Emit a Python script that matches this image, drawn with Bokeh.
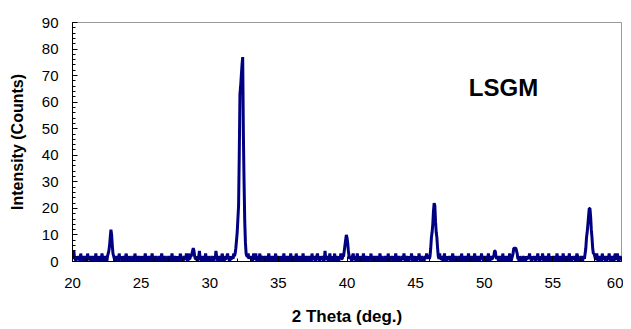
import numpy as np
from bokeh.plotting import figure
from bokeh.models import Range1d, Label, SingleIntervalTicker, ColumnDataSource
from bokeh.embed import file_html
from bokeh.resources import INLINE

# 2-theta grid start/step (deg.) and intensities
theta_start = 20.0
theta_step = 0.05
intensity = [
    1, 2, 4, 1, 1, 0, 2, 1, 1, 2, 1, 0, 3, 1, 2, 1, 0, 1, 2, 1,          # 20
    1, 0, 3, 1, 1, 2, 1, 0, 1, 2, 1, 1, 0, 1, 3, 1, 1, 0, 2, 1,          # 21
    0, 1, 1, 3, 1, 0, 1, 2, 1, 1, 0, 2, 3, 4, 6, 9, 12, 10, 6, 3,        # 22
    2, 1, 0, 1, 2, 1, 1, 0, 3, 1, 1, 2, 0, 1, 1, 2, 1, 0, 3, 2,          # 23
    1, 1, 0, 2, 1, 1, 0, 1, 2, 1, 0, 3, 1, 2, 1, 0, 1, 2, 1, 1,          # 24
    0, 2, 1, 1, 0, 1, 3, 1, 1, 0, 1, 2, 1, 0, 1, 1, 3, 1, 0, 1,          # 25
    1, 2, 1, 0, 1, 1, 2, 1, 0, 1, 3, 1, 1, 0, 1, 2, 1, 0, 1, 1,          # 26
    2, 1, 0, 1, 1, 3, 1, 0, 1, 2, 1, 1, 0, 2, 1, 1, 0, 3, 2, 1,          # 27
    1, 0, 1, 2, 1, 1, 3, 1, 0, 3, 1, 1, 2, 2, 3, 4, 5, 4, 2, 1,          # 28
    1, 2, 0, 1, 2, 4, 1, 1, 0, 1, 2, 1, 0, 1, 3, 1, 1, 0, 2, 1,          # 29
    1, 0, 1, 2, 1, 1, 0, 2, 1, 4, 2, 1, 0, 1, 2, 1, 1, 0, 3, 2,          # 30
    1, 0, 2, 1, 1, 2, 3, 1, 1, 0, 2, 1, 1, 2, 1, 3, 2, 3, 5, 8,          # 31
    11, 16, 21, 40, 63, 66, 70, 74, 77, 48, 30, 15, 7, 3, 2, 2, 3, 1, 2, 1,  # 32
    2, 1, 0, 1, 3, 1, 1, 3, 1, 0, 1, 2, 1, 3, 0, 2, 1, 1, 2, 0,          # 33
    1, 2, 1, 1, 0, 1, 3, 1, 0, 1, 1, 2, 1, 0, 2, 1, 3, 0, 1, 2,          # 34
    1, 1, 0, 2, 1, 1, 0, 1, 3, 1, 1, 0, 1, 2, 1, 0, 1, 1, 3, 1,          # 35
    0, 1, 2, 1, 1, 0, 3, 1, 1, 0, 1, 2, 1, 1, 0, 1, 3, 1, 0, 1,          # 36
    1, 2, 1, 0, 1, 2, 1, 1, 0, 3, 1, 1, 2, 1, 0, 1, 2, 3, 1, 1,          # 37
    0, 2, 1, 1, 2, 1, 0, 1, 4, 1, 1, 2, 1, 0, 1, 3, 1, 1, 0, 2,          # 38
    1, 1, 3, 0, 1, 2, 1, 1, 0, 2, 1, 3, 1, 1, 2, 2, 4, 6, 8, 10,         # 39
    9, 7, 4, 2, 1, 2, 1, 0, 2, 3, 1, 1, 2, 0, 1, 3, 1, 1, 0, 2,          # 40
    1, 1, 0, 1, 3, 1, 0, 1, 2, 1, 1, 0, 2, 1, 1, 3, 0, 1, 1, 2,          # 41
    1, 0, 1, 2, 1, 1, 0, 1, 3, 1, 0, 2, 1, 1, 0, 1, 2, 1, 1, 0,          # 42
    3, 1, 1, 0, 2, 1, 1, 2, 0, 1, 1, 3, 1, 0, 1, 2, 1, 1, 0, 1,          # 43
    2, 1, 1, 3, 1, 0, 1, 2, 1, 1, 0, 2, 1, 1, 3, 1, 0, 1, 2, 1,          # 44
    1, 0, 2, 1, 1, 3, 1, 0, 1, 2, 1, 1, 0, 1, 2, 1, 3, 1, 2, 2,          # 45
    1, 2, 5, 9, 11, 14, 19, 22, 21, 15, 11, 9, 5, 2, 1, 3, 1, 1, 2, 1,   # 46
    0, 1, 3, 1, 1, 0, 2, 1, 1, 2, 1, 0, 1, 1, 3, 1, 0, 1, 2, 1,          # 47
    1, 0, 1, 2, 1, 1, 0, 3, 1, 1, 0, 1, 2, 1, 1, 0, 1, 3, 1, 0,          # 48
    1, 2, 1, 1, 0, 1, 3, 1, 0, 1, 1, 2, 1, 0, 2, 1, 3, 1, 1, 0,          # 49
    1, 2, 1, 0, 1, 1, 3, 1, 0, 1, 2, 1, 1, 2, 2, 4, 4, 2, 1, 2,          # 50
    1, 0, 1, 2, 1, 1, 0, 3, 1, 1, 0, 1, 2, 1, 0, 1, 1, 3, 1, 0,          # 51
    1, 2, 3, 5, 5, 5, 5, 4, 3, 1, 1, 0, 2, 1, 1, 0, 1, 2, 1, 1,          # 52
    0, 2, 1, 1, 2, 1, 3, 1, 1, 0, 2, 1, 1, 2, 1, 0, 1, 1, 3, 1,          # 53
    1, 0, 2, 1, 1, 3, 1, 0, 1, 1, 2, 1, 0, 1, 3, 1, 1, 0, 2, 1,          # 54
    1, 2, 1, 0, 1, 1, 3, 1, 0, 1, 2, 1, 1, 0, 1, 3, 1, 0, 1, 1,          # 55
    2, 1, 0, 1, 3, 1, 1, 0, 2, 1, 1, 2, 1, 0, 1, 3, 2, 1, 0, 1,          # 56
    1, 2, 1, 0, 1, 2, 1, 3, 5, 9, 11, 14, 17, 20, 20, 17, 12, 9, 5, 3,   # 57
    3, 2, 1, 1, 3, 1, 0, 1, 2, 1, 1, 0, 3, 1, 1, 2, 1, 0, 1, 2,          # 58
    1, 1, 3, 1, 0, 1, 2, 1, 1, 0, 2, 3, 1, 1, 3, 1, 0, 1, 2, 1,          # 59
    1,                                                                   # 60
]
two_theta = np.round(theta_start + theta_step * np.arange(len(intensity)), 3)

x_range = (20, 60)
y_range = (0, 90)
sample_label = "LSGM"
sample_label_pos = (51.4, 65.5)

FONT = "Liberation Sans"

p = figure(width=623, height=328, output_backend="svg", toolbar_location=None,
           x_range=Range1d(*x_range), y_range=Range1d(*y_range),
           min_border_left=72, min_border_right=2, min_border_top=22, min_border_bottom=64)
p.xgrid.visible = False
p.ygrid.visible = False
p.outline_line_color = "#9a9a9a"
p.outline_line_width = 1
p.background_fill_color = "white"
p.border_fill_color = "white"

src = ColumnDataSource(dict(x=two_theta, y=intensity))
p.line("x", "y", source=src, line_color="#000080", line_width=3)

p.xaxis.ticker = SingleIntervalTicker(interval=5, num_minor_ticks=5)
p.yaxis.ticker = SingleIntervalTicker(interval=10, num_minor_ticks=5)
for ax in (p.xaxis[0], p.yaxis[0]):
    ax.axis_line_color = "black"
    ax.axis_line_width = 1
    ax.major_tick_in = 5
    ax.major_tick_out = 0
    ax.minor_tick_in = 3
    ax.minor_tick_out = 0
    ax.major_tick_line_color = "black"
    ax.minor_tick_line_color = "black"
    ax.major_label_text_font = FONT
    ax.major_label_text_font_size = "15px"
    ax.major_label_text_color = "black"
    ax.axis_label_text_font = FONT
    ax.axis_label_text_font_style = "bold"
    ax.axis_label_text_font_size = "16px"
    ax.axis_label_text_color = "black"
p.xaxis.axis_label = "2 Theta (deg.)"
p.xaxis.axis_label_text_font_size = "17px"
p.yaxis.axis_label = "Intensity (Counts)"
p.xaxis.major_label_standoff = 16
p.yaxis.major_label_standoff = 14
p.xaxis.axis_label_standoff = 16
p.yaxis.axis_label_standoff = 13

p.add_layout(Label(x=sample_label_pos[0], y=sample_label_pos[1], text=sample_label,
                   text_font=FONT, text_font_style="bold", text_font_size="24px",
                   text_align="center", text_baseline="middle", text_color="black"))

open("out.html", "w").write(file_html(p, INLINE))
